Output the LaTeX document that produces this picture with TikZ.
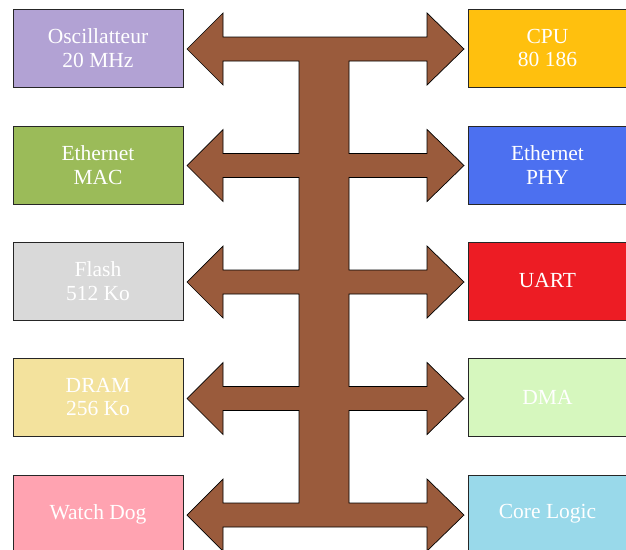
\documentclass[tikz,border=0pt]{standalone}
\usepackage{fontspec}
\setmainfont{Liberation Serif}
\definecolor{cOsc}{RGB}{178,162,212}
\definecolor{cMac}{RGB}{155,187,89}
\definecolor{cFlash}{RGB}{217,217,217}
\definecolor{cDram}{RGB}{243,226,157}
\definecolor{cWd}{RGB}{255,163,177}
\definecolor{cCpu}{RGB}{255,192,14}
\definecolor{cPhy}{RGB}{76,112,240}
\definecolor{cUart}{RGB}{237,28,36}
\definecolor{cDma}{RGB}{214,247,190}
\definecolor{cCore}{RGB}{153,217,234}
\definecolor{cBus}{RGB}{154,91,60}
\begin{document}
\begin{tikzpicture}[x=1pt,y=-1pt,
  blk/.style={draw=black!85,line width=0.8pt,rectangle,minimum height=78pt,
    text=white,align=center,inner sep=0pt,
    font=\fontsize{21.5}{23.5}\selectfont},
  lblk/.style={blk,minimum width=170pt},
  rblk/.style={blk,minimum width=159pt},
  bus/.style={fill=cBus,draw=black,line width=0.7pt,line join=miter}]
\clip (0,0) rectangle (626,549);
\fill[white] (0,0) rectangle (626,549);
% bus shape
\draw[bus] (223,37) -- (427,37) -- (427,13) -- (464,49) -- (427,85) -- (427,61) -- (349,61)
 -- (349,153.5) -- (427,153.5) -- (427,129.5) -- (464,165.5) -- (427,201.5) -- (427,177.5) -- (349,177.5)
 -- (349,270) -- (427,270) -- (427,246) -- (464,282) -- (427,318) -- (427,294) -- (349,294)
 -- (349,386.5) -- (427,386.5) -- (427,362.5) -- (464,398.5) -- (427,434.5) -- (427,410.5) -- (349,410.5)
 -- (349,503) -- (427,503) -- (427,479) -- (464,515) -- (427,551) -- (427,527) -- (223,527)
 -- (223,551) -- (187,515) -- (223,479) -- (223,503) -- (299,503)
 -- (299,410.5) -- (223,410.5) -- (223,434.5) -- (187,398.5) -- (223,362.5) -- (223,386.5) -- (299,386.5)
 -- (299,294) -- (223,294) -- (223,318) -- (187,282) -- (223,246) -- (223,270) -- (299,270)
 -- (299,177.5) -- (223,177.5) -- (223,201.5) -- (187,165.5) -- (223,129.5) -- (223,153.5) -- (299,153.5)
 -- (299,61) -- (223,61) -- (223,85) -- (187,49) -- (223,13) -- cycle;
% left blocks
\node[lblk,fill=cOsc]   (osc)   at (98,48)  {Oscillatteur\\20 MHz};
\node[lblk,fill=cMac]   (mac)   at (98,165) {Ethernet\\MAC};
\node[lblk,fill=cFlash] (flash) at (98,281) {Flash\\512 Ko};
\node[lblk,fill=cDram]  (dram)  at (98,397) {DRAM\\256 Ko};
\node[lblk,fill=cWd]    (wd)    at (98,514) {Watch Dog};
% right blocks
\node[rblk,fill=cCpu]  (cpu)  at (547.5,48)  {CPU\\80 186};
\node[rblk,fill=cPhy]  (phy)  at (547.5,165) {Ethernet\\PHY};
\node[rblk,fill=cUart] (uart) at (547.5,281) {UART};
\node[rblk,fill=cDma]  (dma)  at (547.5,397) {DMA};
\node[rblk,fill=cCore] (core) at (547.5,514) {Core Logic};
\end{tikzpicture}
\end{document}
